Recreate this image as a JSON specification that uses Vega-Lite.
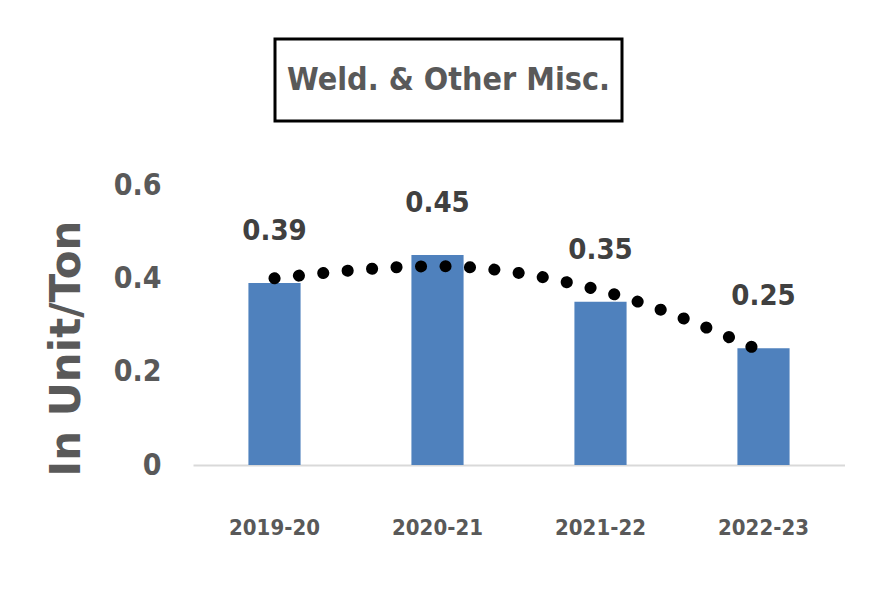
{
  "$schema": "https://vega.github.io/schema/vega-lite/v6.json",
  "padding": {"left": 45, "top": 37, "right": 0, "bottom": 0},
  "background": "white",
  "config": {
    "view": {"stroke": null},
    "font": "DejaVu Sans Condensed, Roboto, sans-serif"
  },
  "spacing": 47,
  "vconcat": [
    {
      "spacing": 10,
      "hconcat": [
        {
          "width": 70,
          "height": 82,
          "data": {"values": [{"t": ""}]},
          "mark": {"type": "text"},
          "encoding": {"text": {"field": "t"}}
        },
        {
          "width": 347,
          "height": 82,
          "view": {"stroke": "black", "strokeWidth": 3},
          "data": {"values": [{"title": "Weld. & Other Misc."}]},
          "mark": {
            "type": "text",
            "fontSize": 32,
            "fontWeight": "bold",
            "color": "#595959",
            "baseline": "middle",
            "align": "center"
          },
          "encoding": {"text": {"field": "title"}}
        }
      ]
    },
    {
      "width": 652,
      "height": 280,
      "data": {
        "values": [
          {"year": "2019-20", "value": 0.39, "trend": 0.4},
          {"year": "2020-21", "value": 0.45, "trend": 0.426},
          {"year": "2021-22", "value": 0.35, "trend": 0.374},
          {"year": "2022-23", "value": 0.25, "trend": 0.242}
        ]
      },
      "encoding": {
        "x": {
          "field": "year",
          "type": "nominal",
          "sort": null,
          "scale": {"paddingInner": 0.68, "paddingOuter": 0.34},
          "axis": {
            "title": null,
            "labelAngle": 0,
            "labelFontSize": 22,
            "labelFontWeight": "bold",
            "labelColor": "#595959",
            "labelPadding": 52,
            "ticks": false,
            "domainColor": "#D9D9D9",
            "domainWidth": 2,
            "grid": false
          }
        }
      },
      "layer": [
        {
          "mark": {"type": "bar", "color": "#4F81BD"},
          "encoding": {
            "y": {
              "field": "value",
              "type": "quantitative",
              "scale": {"domain": [0, 0.6], "nice": false},
              "axis": {
                "values": [0, 0.2, 0.4, 0.6],
                "format": "~g",
                "grid": false,
                "domain": false,
                "ticks": false,
                "labelFontSize": 30,
                "labelFontWeight": "bold",
                "labelColor": "#595959",
                "labelPadding": 32,
                "title": "In Unit/Ton",
                "titleFont": "DejaVu Sans",
                "titleFontSize": 42,
                "titleFontWeight": "bold",
                "titleColor": "#595959",
                "titlePadding": 25,
                "titleY": 163
              }
            }
          }
        },
        {
          "mark": {
            "type": "text",
            "fontSize": 29,
            "fontWeight": "bold",
            "color": "#404040",
            "baseline": "middle",
            "dy": -52
          },
          "encoding": {
            "y": {"field": "value", "type": "quantitative"},
            "text": {"field": "value", "type": "quantitative", "format": ".2f"}
          }
        },
        {
          "mark": {
            "type": "line",
            "color": "black",
            "strokeWidth": 12,
            "strokeCap": "round",
            "strokeDash": [0.1, 24.4],
            "interpolate": "monotone"
          },
          "encoding": {
            "y": {"field": "trend", "type": "quantitative"}
          }
        }
      ]
    }
  ]
}
